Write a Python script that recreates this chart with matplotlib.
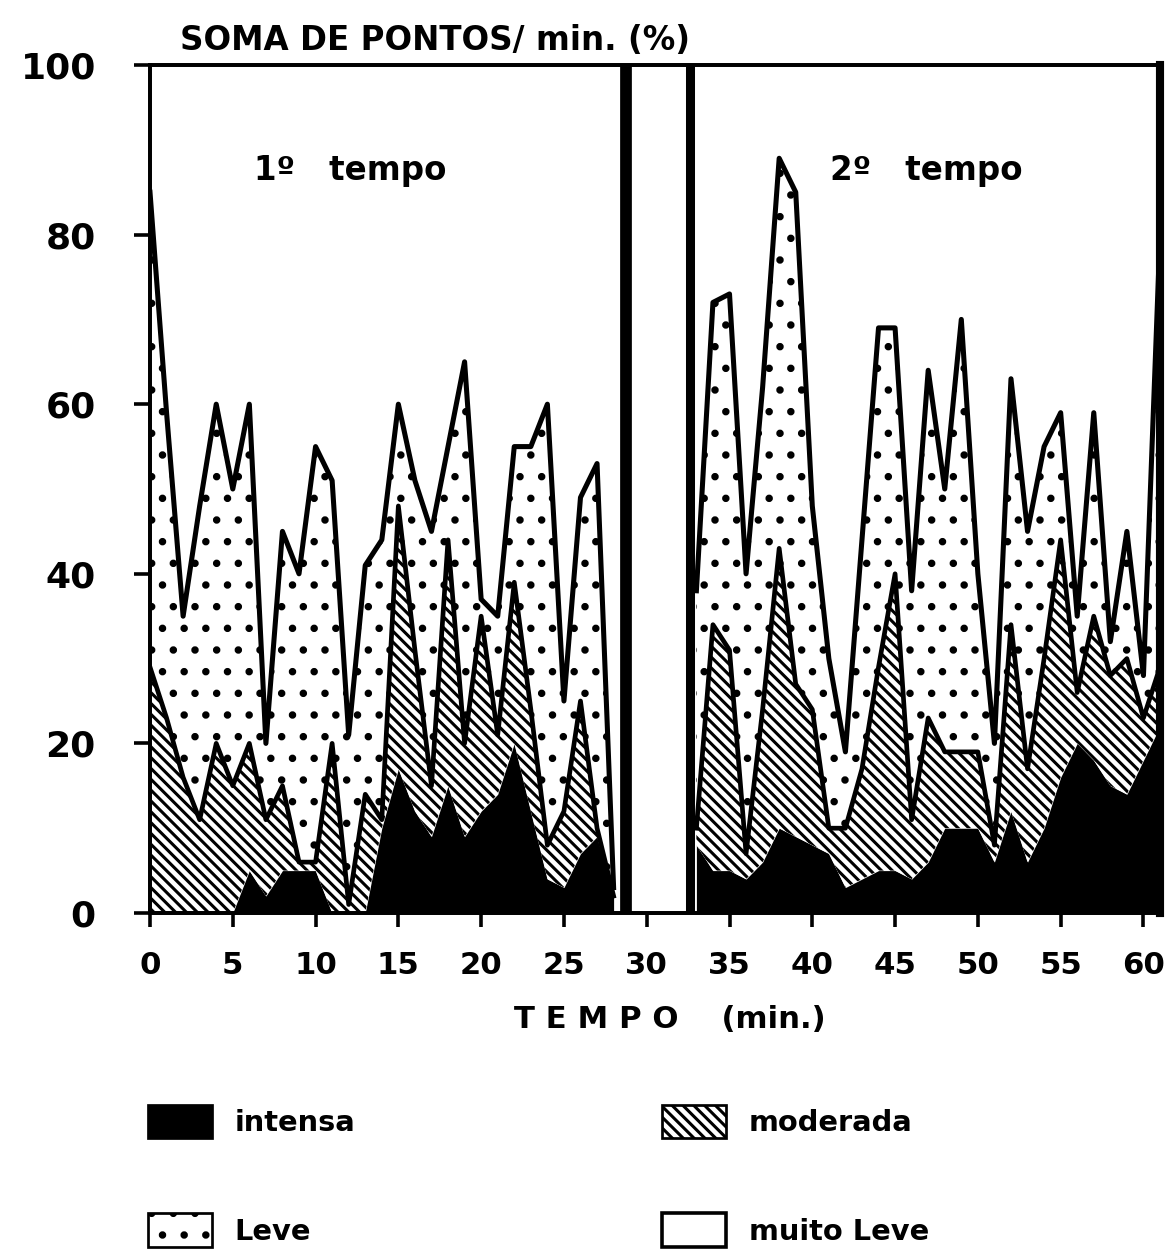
import numpy as np
import matplotlib
matplotlib.use("Agg")
import matplotlib.pyplot as plt
from matplotlib.patches import Patch

# minutos de cada tempo
min_1t = np.arange(0, 29)
min_2t = np.arange(33, 62)

# % da soma de pontos por minuto, por intensidade (1º tempo)
intensa_1t = [0, 0, 0, 0, 0, 0, 5, 2, 5, 5, 5, 0, 0, 0, 10, 17, 12, 9, 15, 9,
              12, 14, 20, 12, 4, 3, 7, 9, 2]
moderada_1t = [29, 23, 16, 11, 20, 15, 15, 9, 10, 1, 1, 20, 1, 14, 1, 31, 19, 6, 29, 11,
               23, 7, 19, 12, 4, 9, 18, 1, 0]
leve_1t = [56, 36, 19, 37, 40, 35, 40, 9, 30, 34, 49, 31, 20, 27, 33, 12, 20, 30, 11, 45,
           2, 14, 16, 31, 52, 13, 24, 43, 1]

# 2º tempo
intensa_2t = [8, 5, 5, 4, 6, 10, 9, 8, 7, 3, 4, 5, 5, 4, 6, 10, 10, 10, 6, 12,
              6, 10, 16, 20, 18, 15, 14, 18, 22]
moderada_2t = [2, 29, 26, 3, 18, 33, 18, 16, 3, 7, 13, 24, 35, 7, 17, 9, 9, 9, 2, 22,
               11, 20, 28, 6, 17, 13, 16, 5, 7]
leve_2t = [28, 38, 42, 33, 38, 46, 58, 24, 20, 9, 27, 40, 29, 27, 41, 31, 51, 21, 12, 29,
           28, 25, 15, 9, 24, 4, 15, 5, 51]

x_ticks = list(range(0, 61, 5))
y_ticks = list(range(0, 101, 20))
intervalo = (28.75, 32.6)  # linhas do intervalo

plt.rcParams["font.family"] = ["DejaVu Sans"]
plt.rcParams["hatch.linewidth"] = 1.7
plt.rcParams["hatch.color"] = "black"

HATCH_MOD = "\\\\\\\\"
DPI = 130
fig = plt.figure(figsize=(1170 / DPI, 1251 / DPI), dpi=DPI)
ax = fig.add_axes([150 / 1170, 338 / 1251, 1010 / 1170, 848 / 1251])

for t, i, m, l in [(min_1t, intensa_1t, moderada_1t, leve_1t),
                   (min_2t, intensa_2t, moderada_2t, leve_2t)]:
    c1 = np.array(i, float)
    c2 = c1 + np.array(m, float)
    c3 = c2 + np.array(l, float)
    ax.fill_between(t, 0, c1, color="black", lw=0)
    ax.fill_between(t, c1, c2, facecolor="white", edgecolor="black", hatch=HATCH_MOD, lw=0)
    ax.fill_between(t, c2, c3, facecolor="white", edgecolor="black", hatch=".", lw=0)
    ax.plot(t, c2, color="black", lw=2.6)
    ax.plot(t, c3, color="black", lw=2.8)

ax.axvline(intervalo[0], color="black", lw=6.5)
ax.axvline(intervalo[1], color="black", lw=5)

ax.set_xlim(0, 61)
ax.set_ylim(0, 100)
ax.set_xticks(x_ticks)
ax.set_yticks(y_ticks)
ax.tick_params(axis="x", direction="out", length=8, width=2, pad=13, labelsize=17)
ax.tick_params(axis="y", direction="out", length=9, width=2, pad=21, labelsize=20)
for lab in ax.get_xticklabels() + ax.get_yticklabels():
    lab.set_fontweight("bold")
for s in ["left", "top", "bottom"]:
    ax.spines[s].set_linewidth(2.2)
ax.spines["right"].set_linewidth(4.5)

ax.text(12.1, 87.6, "1º   tempo", ha="center", va="center", fontsize=18, fontweight="bold")
ax.text(46.9, 87.6, "2º   tempo", ha="center", va="center", fontsize=18, fontweight="bold")

fig.text(180 / 1170, 1 - 40 / 1251, "SOMA DE PONTOS/ min. (%)", ha="left", va="center",
         fontsize=18, fontweight="bold")
fig.text(670 / 1170, 1 - 1020 / 1251, "T E M P O    (min.)", ha="center", va="center",
         fontsize=17, fontweight="bold")

h_int = Patch(facecolor="black", edgecolor="black", lw=1.5, label="intensa")
h_leve = Patch(facecolor="white", edgecolor="black", hatch=".", lw=1.5, label="Leve")
h_mod = Patch(facecolor="white", edgecolor="black", hatch=HATCH_MOD, lw=1.5, label="moderada")
h_ml = Patch(facecolor="white", edgecolor="black", lw=2, label="muito Leve")
leg_kw = dict(loc="upper left", frameon=False, borderpad=0, borderaxespad=0,
              handlelength=2.2, handleheight=1.4, handletextpad=0.8, labelspacing=2.6,
              prop={"size": 16, "weight": "bold"})
fig.legend(handles=[h_int, h_leve], bbox_to_anchor=(148 / 1170, 1 - 1105 / 1251), **leg_kw)
fig.legend(handles=[h_mod, h_ml], bbox_to_anchor=(662 / 1170, 1 - 1105 / 1251), **leg_kw)

fig.savefig("out.png", dpi=DPI)
